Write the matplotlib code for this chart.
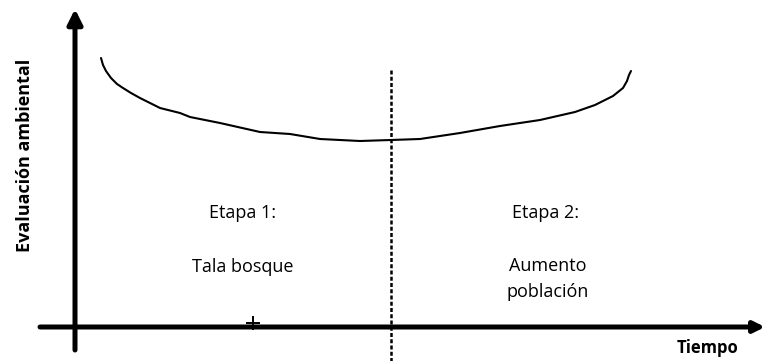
import matplotlib
matplotlib.use("Agg")
import matplotlib.pyplot as plt

plt.rcParams['font.family'] = ['Open Sans', 'DejaVu Sans']

# curva de evaluación ambiental (tiempo, evaluación) en unidades arbitrarias
tiempo = [26, 28, 31, 36, 42, 48, 56, 65, 75, 85, 105, 115, 145, 185, 215,
          245, 285, 316, 345, 385, 425, 465, 500, 520, 538, 548, 552, 554, 556]
evaluacion = [269, 262, 256, 249, 243, 239, 234, 229, 224, 219, 214, 210,
              204, 195, 193, 188, 186, 187, 188, 194, 201, 207, 215, 222,
              231, 239, 246, 252, 256]

# límite entre etapas
t_limite = 316
limite_arriba = 257

# marca "+" sobre el eje del tiempo
marca_t = [178]
marca_e = [4]

etapa1 = ['Etapa 1:', 'Tala bosque']
etapa2 = ['Etapa 2:', 'Aumento', 'población']


def dibujar():
    fig = plt.figure(figsize=(7.65, 3.61), dpi=100)
    ax = fig.add_axes([0, 0, 1, 1])
    ax.set_xlim(-75, 690)
    ax.set_ylim(-34, 327)
    ax.axis('off')

    # ejes con flechas
    ax.annotate('', xy=(0, 318), xytext=(0, -23),
                arrowprops=dict(arrowstyle='-|>', lw=3.6, color='black',
                                mutation_scale=22, shrinkA=0, shrinkB=0))
    ax.annotate('', xy=(690, 0), xytext=(-35, 0),
                arrowprops=dict(arrowstyle='-|>', lw=3.6, color='black',
                                mutation_scale=16, shrinkA=0, shrinkB=0))

    # curva
    ax.plot(tiempo, evaluacion, color='black', lw=1.5,
            solid_capstyle='round', solid_joinstyle='round')

    # línea divisoria
    ax.plot([t_limite, t_limite], [limite_arriba, -34], color='black',
            lw=1.8, dashes=(1.6, 0.9))

    ax.plot(marca_t, marca_e, marker='+', color='black', ms=10, mew=1.4,
            ls='none')

    # textos
    ax.text(-50, 172, 'Evaluación ambiental', rotation=90, ha='center',
            va='center', fontsize=13, fontweight='bold')
    ax.text(633, -21, 'Tiempo', ha='center', va='center', fontsize=12,
            fontweight='bold')

    fs = 13
    ax.text(168, 114, etapa1[0], ha='center', va='center', fontsize=fs)
    ax.text(168, 60, etapa1[1], ha='center', va='center', fontsize=fs)
    ax.text(471, 114, etapa2[0], ha='center', va='center', fontsize=fs)
    ax.text(473, 61, etapa2[1], ha='center', va='center', fontsize=fs)
    ax.text(473, 35, etapa2[2], ha='center', va='center', fontsize=fs)

    fig.savefig('out.png', dpi=100, facecolor='white')


if __name__ == "__main__":
    dibujar()
